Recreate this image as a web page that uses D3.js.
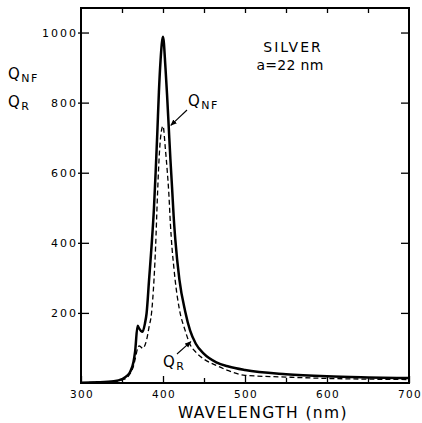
<!DOCTYPE html>
<html><head><meta charset="utf-8">
<script src="https://cdn.jsdelivr.net/npm/d3@7"></script>
<style>
html,body{margin:0;padding:0;background:#fff;}
svg text{font-family:"DejaVu Sans",sans-serif;fill:#000;}
</style></head>
<body>
<svg id="chart" width="422" height="423"></svg>
<script>
// Data
const wavelength = [300,320,340,350,356,360,364,366,369,371,373,375,378,380,383,386,389,391,393,395,397,400,403,405,407,409,411,413,415,420,427,433,440,450,465,480,500,550,600,650,700];
const qNF = [1,2,5,11,20,32,60,90,163,155,149,146,170,199,294,389,500,600,710,830,920,988,900,820,730,640,560,475,410,295,205,150,112,83,59,47,37,25,19,16,14];
const qR  = [1,2,4,9,15,27,48,68,98,106,103,99,108,123,160,199,294,390,520,630,700,733,665,610,545,455,385,335,290,210,150,110,88,68,50,35,22,17,13,11,10];
const xTicks = [300,400,500,600,700];
const xMinorTicks = [300,350,400,450,500,550,600,650,700];
const yTicks = [200,400,600,800,1000];

const svg = d3.select("#chart");
const x = d3.scaleLinear().domain([300,700]).range([81,409]);
const y = d3.scaleLinear().domain([0,1070]).range([383,8]);
const ink = "#000";

// frame
svg.append("rect").attr("x",x(300)).attr("y",y(1070)).attr("width",x(700)-x(300)).attr("height",y(0)-y(1070))
  .attr("fill","none").attr("stroke",ink).attr("stroke-width",2);

// bottom axis ticks (inward)
const gBottom = svg.append("g").attr("transform",`translate(0,${y(0)})`)
  .call(d3.axisBottom(x).tickValues(xMinorTicks).tickSize(-5).tickFormat(""));
gBottom.selectAll(".tick line").attr("y2", d => xTicks.includes(d) ? -7 : -5);
gBottom.select(".domain").remove();
gBottom.selectAll("line").attr("stroke",ink).attr("stroke-width",1.3);

// bottom tick labels
svg.append("g").selectAll("text").data(xTicks).join("text")
  .attr("x", d => x(d) + 1).attr("y", 398).attr("text-anchor","middle")
  .attr("font-size",10.5).attr("letter-spacing",1.3).text(d => d);

// top axis ticks
const gTop = svg.append("g").attr("transform",`translate(0,${y(1070)})`)
  .call(d3.axisTop(x).tickValues(xMinorTicks.slice(1,-1)).tickSize(-5).tickFormat(""));
gTop.select(".domain").remove();
gTop.selectAll("line").attr("stroke",ink).attr("stroke-width",1.3);

// left axis
const gLeft = svg.append("g").attr("transform",`translate(${x(300)},0)`)
  .call(d3.axisLeft(y).tickValues(yTicks).tickSize(-8).tickPadding(3).tickFormat(d3.format("d")));
gLeft.select(".domain").remove();
gLeft.selectAll(".tick line").attr("x1",-3).attr("stroke",ink).attr("stroke-width",1.3);
gLeft.selectAll(".tick text").attr("font-size",11).attr("letter-spacing",2)
  .attr("font-family","DejaVu Sans").attr("fill",ink).attr("dy","0.36em");

// right axis
const gRight = svg.append("g").attr("transform",`translate(${x(700)},0)`)
  .call(d3.axisRight(y).tickValues(yTicks).tickSize(-8).tickFormat(""));
gRight.select(".domain").remove();
gRight.selectAll("line").attr("stroke",ink).attr("stroke-width",1.3);

// curves
const line = (vals) => d3.line().x((d,i)=>x(wavelength[i])).y(d=>y(d)).curve(d3.curveMonotoneX)(vals);
svg.append("path").attr("d", line(qR)).attr("fill","none").attr("stroke",ink)
  .attr("stroke-width",1.3).attr("stroke-dasharray","5,3");
svg.append("path").attr("d", line(qNF)).attr("fill","none").attr("stroke",ink)
  .attr("stroke-width",2.5).attr("stroke-linejoin","round");

// axis labels
svg.append("text").attr("x",263).attr("y",418).attr("text-anchor","middle")
  .attr("font-size",15.5).attr("letter-spacing",1.4).text("WAVELENGTH (nm)");

function qLabel(xp, yp, sub){
  const t = svg.append("text").attr("x",xp).attr("y",yp).attr("font-size",15);
  t.append("tspan").text("Q");
  t.append("tspan").attr("font-size",11).attr("dy",3).attr("dx",1.5).attr("letter-spacing",1.5).text(sub);
}
qLabel(8,79,"NF");
qLabel(8,107,"R");

// title inside
svg.append("text").attr("x",293).attr("y",52).attr("text-anchor","middle")
  .attr("font-size",14).attr("letter-spacing",2).text("SILVER");
svg.append("text").attr("x",290).attr("y",70).attr("text-anchor","middle")
  .attr("font-size",14).attr("letter-spacing",0.3).text("a=22 nm");

// annotations with arrows
const defs = svg.append("defs");
defs.append("marker").attr("id","arr").attr("viewBox","0 0 10 10").attr("refX",9).attr("refY",5)
  .attr("markerWidth",6).attr("markerHeight",6).attr("orient","auto")
  .append("path").attr("d","M0,1 L10,5 L0,9 Z").attr("fill",ink);

qLabel(188,106,"NF");
svg.append("line").attr("x1",187).attr("y1",110).attr("x2",x(409.5)).attr("y2",y(735))
  .attr("stroke",ink).attr("stroke-width",1.1).attr("marker-end","url(#arr)");
qLabel(163,367,"R");
svg.append("line").attr("x1",177).attr("y1",354).attr("x2",x(434)).attr("y2",y(118))
  .attr("stroke",ink).attr("stroke-width",1.1).attr("marker-end","url(#arr)");
</script>
</body></html>
